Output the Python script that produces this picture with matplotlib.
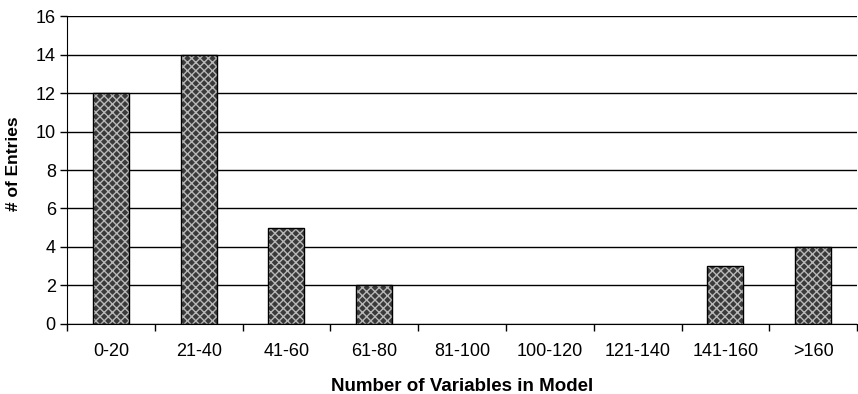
import numpy as np
import matplotlib.pyplot as plt

plt.rcParams['font.family'] = ['Liberation Sans', 'DejaVu Sans']

categories = ['0-20', '21-40', '41-60', '61-80', '81-100', '100-120', '121-140', '141-160', '>160']
entries = [12, 14, 5, 2, 0, 0, 0, 3, 4]

x = np.arange(len(categories))
# only draw the outline where there is a bar
edge_w = [1 if v > 0 else 0 for v in entries]

fig = plt.figure(figsize=(8.58, 3.94), dpi=100)
ax = fig.add_axes([0.078, 0.178, 0.921, 0.781])

# gridlines behind the bars
ax.set_axisbelow(True)
ax.yaxis.grid(True, color='black', linewidth=1)

# dark fill with a light cross-hatch on top
ax.bar(x, entries, width=0.41, color='#3a3a3a', linewidth=0, zorder=2)
ax.bar(x, entries, width=0.41, color='none', edgecolor='#b8b8b8', hatch='xxxx', linewidth=0, zorder=3)
ax.bar(x, entries, width=0.41, color='none', edgecolor='black', linewidth=edge_w, zorder=4)

ax.set_xlim(-0.5, len(categories) - 0.5)
ax.set_ylim(0, 16)
ax.set_yticks(range(0, 17, 2))

ax.set_xticks(x)
ax.set_xticklabels(categories, fontsize=13)
ax.set_xticks(np.arange(-0.5, len(categories), 1), minor=True)
ax.tick_params(axis='x', which='major', length=0, pad=14)
ax.tick_params(axis='x', which='minor', length=5, width=1, direction='out')
ax.tick_params(axis='y', length=5, width=1, labelsize=13, pad=3)

for s in ['top', 'right']:
    ax.spines[s].set_visible(False)

ax.set_xlabel('Number of Variables in Model', fontsize=13.5, fontweight='bold', labelpad=13)
ax.set_ylabel('# of Entries', fontsize=12.5, fontweight='bold')
ax.yaxis.set_label_coords(-0.058, 0.52)

plt.savefig('out.png', dpi=100)
